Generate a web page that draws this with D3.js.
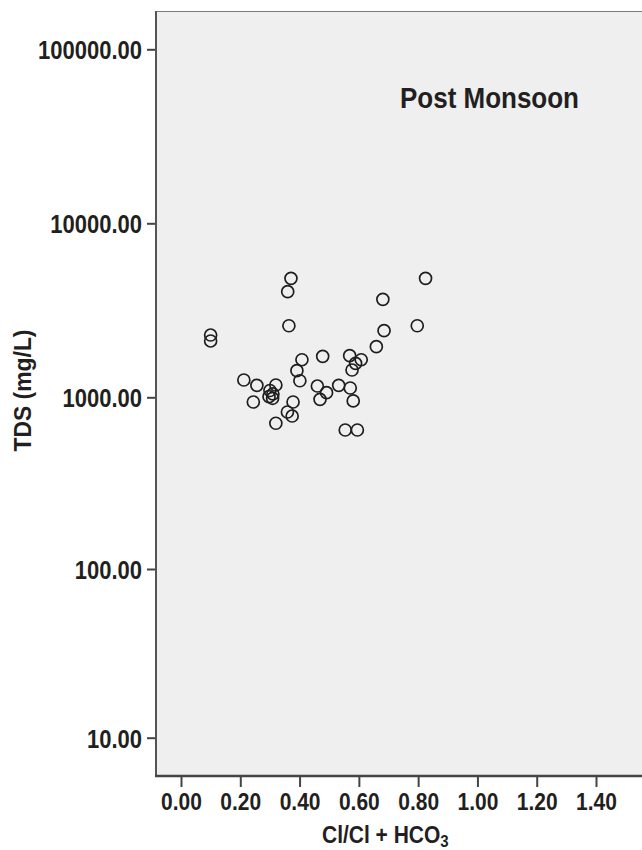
<!DOCTYPE html>
<html>
<head>
<meta charset="utf-8">
<script src="https://cdn.jsdelivr.net/npm/d3@7"></script>
<style>
  html, body { margin: 0; padding: 0; background: #fff; }
  svg text { font-family: "Liberation Sans", Arial, Helvetica, sans-serif; font-weight: bold; fill: #231f20; }
</style>
</head>
<body>
<div id="chart"></div>
<script>
// Cl/(Cl + HCO3) ratio vs TDS, post monsoon samples
const ratio = [0.371, 0.360, 0.364, 0.100, 0.100, 0.825, 0.681, 0.685, 0.797, 0.659,
  0.408, 0.478, 0.569, 0.608, 0.589, 0.577, 0.391, 0.401, 0.212, 0.256,
  0.320, 0.300, 0.310, 0.309, 0.297, 0.460, 0.491, 0.469, 0.532, 0.571,
  0.581, 0.244, 0.378, 0.359, 0.375, 0.320, 0.554, 0.595];
const tds = [4830, 4045, 2578, 2280, 2107, 4830, 3657, 2414, 2578, 1953,
  1644, 1720, 1734, 1644, 1567, 1435, 1422, 1245, 1257, 1172,
  1177, 1094, 1045, 987, 1008, 1161, 1063, 973, 1172, 1131,
  952, 939, 939, 821, 778, 706, 645, 645];

const xTicks = [0, 0.2, 0.4, 0.6, 0.8, 1.0, 1.2, 1.4];
const yTicks = [10, 100, 1000, 10000, 100000];
const title = 'Post Monsoon';

const width = 642, height = 850;
const plot = { left: 156, top: 11, right: 700, bottom: 776 };
const stretch = 1.15; // the original figure is a bit taller than wide

const svg = d3.select('#chart')
  .append('svg')
  .attr('width', width)
  .attr('height', height);

const x = d3.scaleLinear()
  .domain([0, 1.4])
  .range([181, 596]);

// piecewise log scale so each decade sits where it does in the figure
const y = d3.scaleLog()
  .domain(yTicks)
  .range([737.7, 569, 397.3, 223.3, 49.3]);

// plot background
svg.append('rect')
  .attr('x', plot.left)
  .attr('y', plot.top)
  .attr('width', plot.right - plot.left)
  .attr('height', plot.bottom - plot.top)
  .attr('fill', '#efefef');

svg.append('line')
  .attr('x1', plot.left).attr('x2', plot.right)
  .attr('y1', plot.top + 0.5).attr('y2', plot.top + 0.5)
  .attr('stroke', '#7a7a7a').attr('stroke-width', 1);

// Y axis
const yAxis = svg.append('g')
  .attr('transform', `translate(${plot.left},0)`)
  .call(d3.axisLeft(y).tickValues(yTicks).tickFormat(d3.format('.2f')).tickSize(9).tickPadding(5).tickSizeOuter(0));
yAxis.select('.domain').remove();
yAxis.selectAll('line').attr('stroke', '#444').attr('stroke-width', 2);
yAxis.selectAll('text')
  .attr('font-size', '22px')
  .attr('fill', '#231f20')
  .attr('dy', null)
  .attr('y', 9.5 / stretch)
  .attr('transform', `scale(1,${stretch})`);

// X axis
const xAxis = svg.append('g')
  .attr('transform', `translate(0,${plot.bottom})`)
  .call(d3.axisBottom(x).tickValues(xTicks).tickFormat(d3.format('.2f')).tickSize(11).tickSizeOuter(0));
xAxis.select('.domain').remove();
xAxis.selectAll('line').attr('stroke', '#444').attr('stroke-width', 2);
xAxis.selectAll('text')
  .attr('font-size', '21px')
  .attr('fill', '#231f20')
  .attr('dy', null)
  .attr('y', 34 / stretch)
  .attr('transform', `scale(1,${stretch})`);

// frame lines (left and bottom)
svg.append('line')
  .attr('x1', plot.left).attr('x2', plot.left)
  .attr('y1', plot.top).attr('y2', plot.bottom + 1)
  .attr('stroke', '#555').attr('stroke-width', 2);
svg.append('line')
  .attr('x1', plot.left - 1).attr('x2', plot.right)
  .attr('y1', plot.bottom).attr('y2', plot.bottom)
  .attr('stroke', '#444').attr('stroke-width', 2.5);

// points
svg.append('g')
  .selectAll('circle')
  .data(ratio.map((r, i) => [r, tds[i]]))
  .enter()
  .append('circle')
  .attr('cx', d => x(d[0]))
  .attr('cy', d => y(d[1]))
  .attr('r', 6)
  .attr('fill', 'none')
  .attr('stroke', '#1e1e1e')
  .attr('stroke-width', 1.7);

// title inside plot
svg.append('text')
  .attr('transform', `translate(400,107.5) scale(1,${stretch})`)
  .attr('font-size', '26px')
  .text(title);

// axis titles
const xTitle = svg.append('text')
  .attr('transform', `translate(322,843) scale(1,${stretch})`)
  .attr('font-size', '21px');
xTitle.append('tspan').text('Cl/Cl + HCO');
xTitle.append('tspan').attr('font-size', '15px').attr('dy', 3.4).text('3');

svg.append('text')
  .attr('transform', 'translate(31,390.5) rotate(-90)')
  .attr('text-anchor', 'middle')
  .attr('font-size', '23px')
  .attr('textLength', 122)
  .attr('lengthAdjust', 'spacingAndGlyphs')
  .text('TDS (mg/L)');
</script>
</body>
</html>
